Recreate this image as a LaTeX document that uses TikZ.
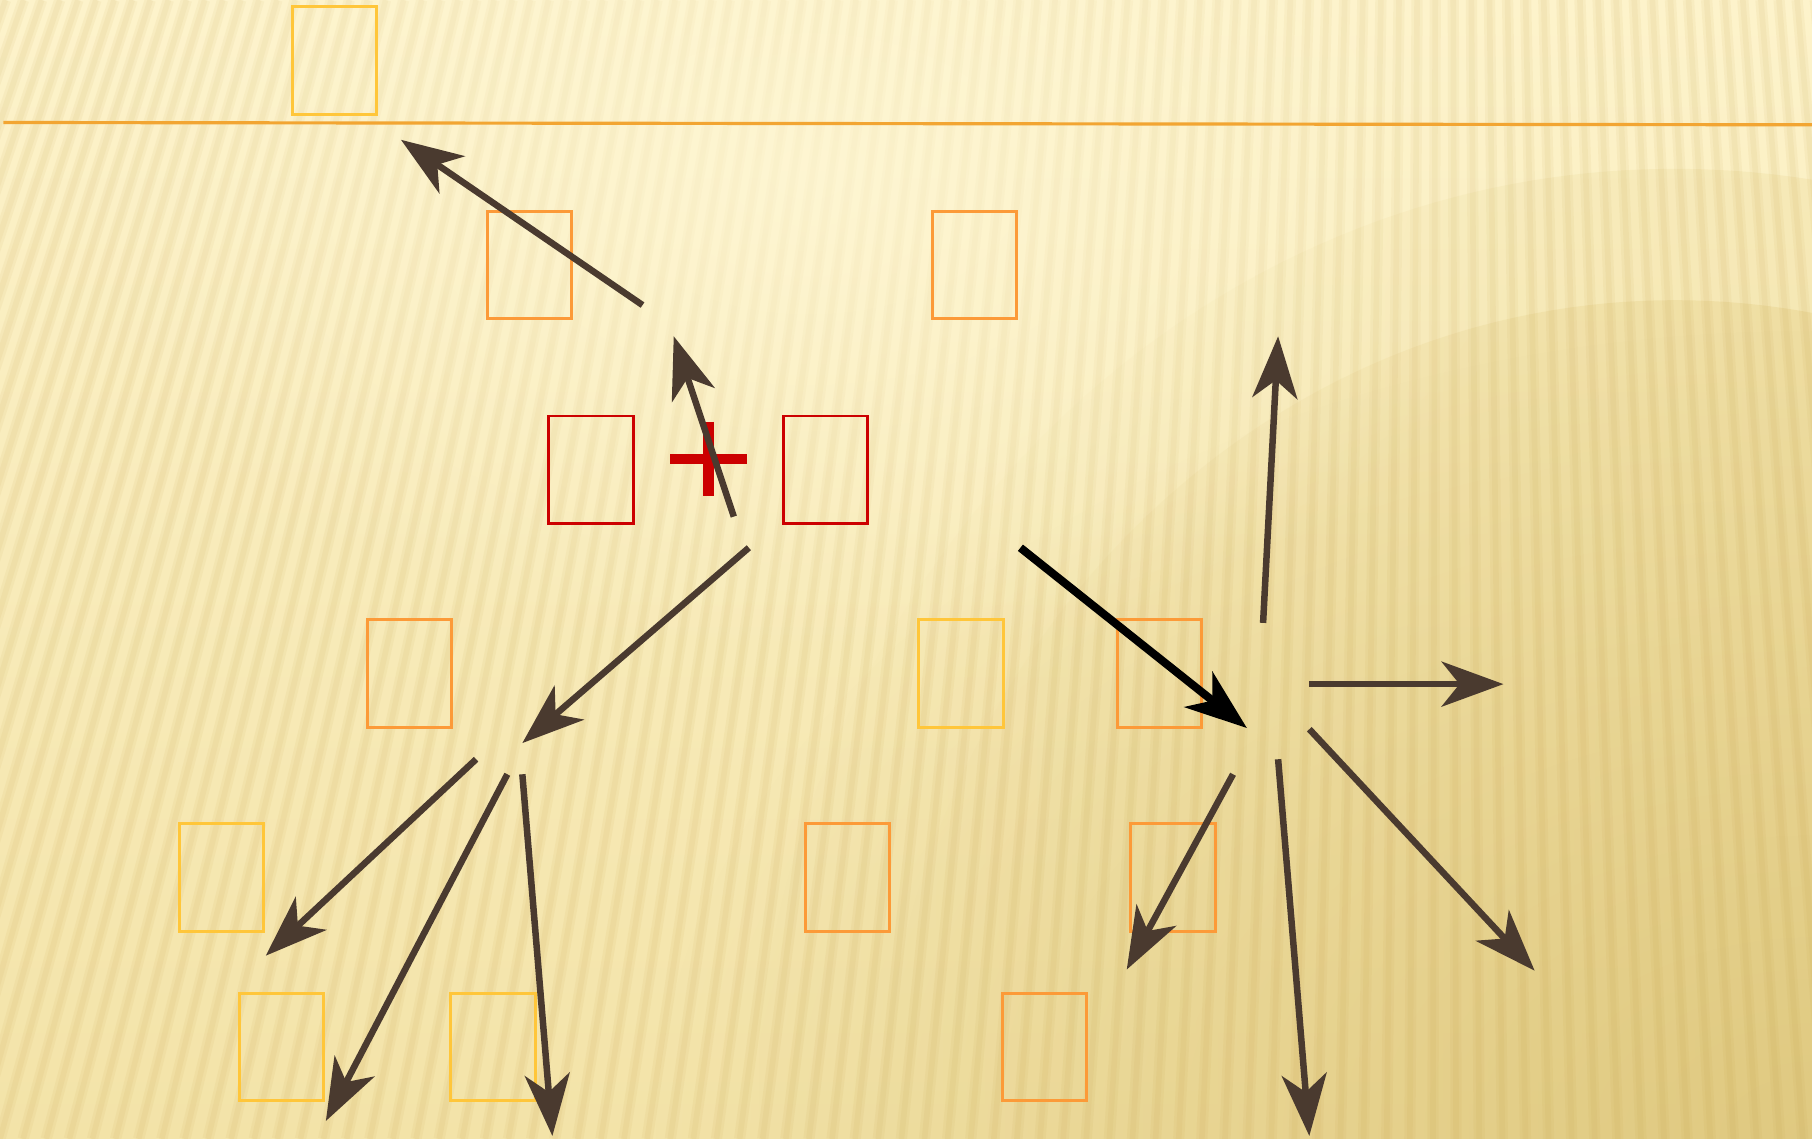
\documentclass[tikz,border=0pt]{standalone}
\usetikzlibrary{arrows.meta,fadings}
\definecolor{bgtop}{RGB}{253,243,203}
\definecolor{bgbot}{RGB}{243,227,168}
\definecolor{bgdark}{RGB}{221,198,124}
\definecolor{dome}{RGB}{228,205,130}
\definecolor{glow}{RGB}{255,248,215}
\definecolor{stripe}{RGB}{190,150,60}
\definecolor{rule}{RGB}{242,165,50}
\definecolor{boxyellow}{RGB}{255,198,58}
\definecolor{boxorange}{RGB}{252,154,56}
\definecolor{boxred}{RGB}{204,0,0}
\definecolor{arrowbrown}{RGB}{74,58,47}
\tikzfading[name=glowout,inner color=transparent!0,outer color=transparent!100]
\tikzfading[name=domein,left color=transparent!100,right color=transparent!0]

\begin{document}
\begin{tikzpicture}[x=0.011556cm,y=-0.011556cm,
  ybox/.style={draw=boxyellow,line width=0.85pt,minimum width=0.8436cm,
    minimum height=1.0747cm,inner sep=0pt},
  obox/.style={ybox,draw=boxorange},
  rbox/.style={ybox,draw=boxred},
  arr/.style={draw=arrowbrown,line width=1.85pt,
    -{Stealth[length=17.6pt,width=12.8pt,inset=5.1pt]}}]
  \useasboundingbox (0,0) rectangle (1568,985.6);

  % background
  \shade[top color=bgtop,bottom color=bgbot] (0,0) rectangle (1568,985.6);
  \begin{scope}
    \clip (0,0) rectangle (1568,985.6);
    \fill[dome,opacity=0.35,path fading=domein] (1450,1000) ellipse (800 and 855);
    \fill[dome,opacity=0.6,path fading=domein] (1450,1000) ellipse (689 and 742);
    \fill[bgdark,path fading=glowout,opacity=0.8] (1568,985.6) ellipse (1000 and 700);
    \foreach \b in {-400,-380,...,1680} {
      \draw[stripe,opacity=0.07,line width=3.2pt] (\b,985.6) -- ({0.783*\b+271},0);
      \draw[stripe,opacity=0.07,line width=1.6pt] (\b,985.6) -- ({0.783*\b+271},0);
    }
    \fill[glow,path fading=glowout,opacity=0.7] (700,150) ellipse (650 and 420);
  \end{scope}
  \draw[rule,line width=0.9pt] (3,106) -- (1568,108);

  % boxes
  \node[ybox] (y1) at (289.5,52.5) {};
  \node[obox] (o1) at (458,229.5) {};
  \node[obox] (o2) at (843.5,229.5) {};
  \node[rbox] (r1) at (511.5,406.5) {};
  \node[rbox] (r2) at (714.5,406.5) {};
  \node[obox] (o3) at (354.5,583) {};
  \node[ybox] (y2) at (831.5,583) {};
  \node[obox] (o4) at (1003.5,583) {};
  \node[ybox] (y3) at (191.5,759.5) {};
  \node[obox] (o5) at (733.5,759.5) {};
  \node[obox] (o6) at (1015,759.5) {};
  \node[ybox] (y4) at (243.5,906) {};
  \node[ybox] (y5) at (426.5,906) {};
  \node[obox] (o7) at (904,906) {};

  % plus
  \draw[boxred,line width=3pt] (580,397) -- (646,397);
  \draw[boxred,line width=3pt] (613,365) -- (613,429);

  % arrow ends
  \coordinate (a) at (556,264);   \coordinate (a') at (347,121);
  \coordinate (b) at (635,447);   \coordinate (b') at (583,291);
  \coordinate (c) at (648,474);   \coordinate (c') at (452,643);
  \coordinate (d) at (883,474);   \coordinate (d') at (1079,630);
  \coordinate (e) at (1093,539);  \coordinate (e') at (1106,291);
  \coordinate (f) at (1133,592);  \coordinate (f') at (1301,592);
  \coordinate (g) at (1133,631);  \coordinate (g') at (1328,840);
  \coordinate (h) at (1106,657);  \coordinate (h') at (1133,983);
  \coordinate (i) at (1067,670);  \coordinate (i') at (975,839);
  \coordinate (j) at (412,657);   \coordinate (j') at (230,827);
  \coordinate (k) at (439,670);   \coordinate (k') at (282,970);
  \coordinate (l) at (452,670);   \coordinate (l') at (478,983);

  \draw[arr] (a) -- (a');
  \draw[arr] (b) -- (b');
  \draw[arr] (c) -- (c');
  \draw[arr,draw=black,line width=2.3pt] (d) -- (d');
  \draw[arr] (e) -- (e');
  \draw[arr] (f) -- (f');
  \draw[arr] (g) -- (g');
  \draw[arr] (h) -- (h');
  \draw[arr] (i) -- (i');
  \draw[arr] (j) -- (j');
  \draw[arr] (k) -- (k');
  \draw[arr] (l) -- (l');
\end{tikzpicture}
\end{document}
